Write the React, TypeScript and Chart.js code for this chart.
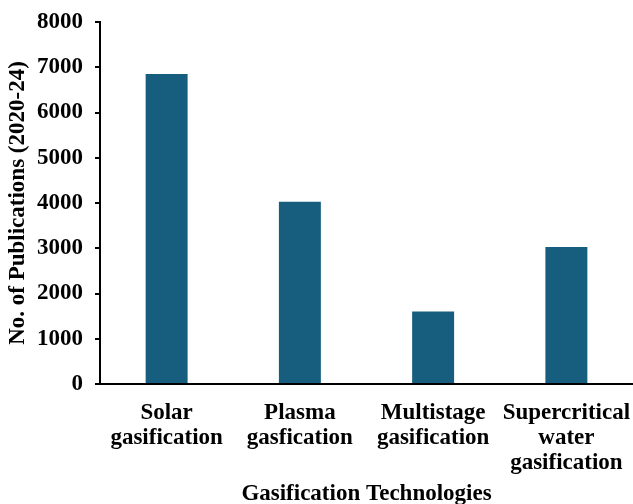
import React, { useEffect, useRef } from "react";
import { Chart, registerables } from "chart.js";

Chart.register(...registerables);

const categories: string[][] = [
  ["Solar", "gasification"],
  ["Plasma", "gasfication"],
  ["Multistage", "gasification"],
  ["Supercritical", "water", "gasification"],
];
const publications: number[] = [6850, 4030, 1600, 3030];
const yTickValues: number[] = [0, 1000, 2000, 3000, 4000, 5000, 6000, 7000, 8000];

const xTitle = "Gasification Technologies";
const yTitle = "No. of Publications (2020-24)";

const FONT = "'Liberation Serif', 'Times New Roman', serif";
const FS = 23;
const LH = 25 / 23;

export default function App() {
  const ref = useRef<HTMLCanvasElement | null>(null);
  useEffect(() => {
    if (!ref.current) return;
    const chart = new Chart(ref.current, {
      type: "bar",
      data: {
        labels: categories,
        datasets: [
          {
            data: publications,
            backgroundColor: "#175e7e",
            borderWidth: 0,
            barPercentage: 0.315,
            categoryPercentage: 1,
          },
        ],
      },
      options: {
        responsive: false,
        animation: false,
        layout: { padding: { left: 4, right: 0, top: 22, bottom: 0 } },
        plugins: {
          legend: { display: false },
          tooltip: { enabled: false },
        },
        scales: {
          x: {
            afterFit: (scale: any) => {
              scale.paddingLeft = 0;
              scale.paddingRight = 0;
            },
            grid: { display: false, drawTicks: false },
            border: { display: true, color: "#000", width: 2 },
            ticks: {
              color: "#000",
              padding: 17,
              maxRotation: 0,
              autoSkip: false,
              font: { family: FONT, size: FS, weight: "bold", lineHeight: LH },
            },
            title: {
              display: true,
              text: xTitle,
              color: "#000",
              padding: { top: -11, bottom: -3 },
              font: { family: FONT, size: FS, weight: "bold", lineHeight: LH },
            },
          },
          y: {
            min: 0,
            max: 8000,
            afterBuildTicks: (axis: any) => {
              axis.ticks = yTickValues.map((v) => ({ value: v }));
            },
            afterFit: (scale: any) => {
              scale.width = 96;
              scale.paddingTop = 0;
              scale.paddingBottom = 0;
            },
            grid: {
              display: true,
              drawOnChartArea: false,
              drawTicks: true,
              tickLength: 5,
              color: "#000",
              lineWidth: 2,
            },
            border: { display: true, color: "#000", width: 2 },
            ticks: {
              color: "#000",
              padding: 12,
              callback: (v: any) => String(v),
              font: { family: FONT, size: FS, weight: "bold" },
            },
            title: {
              display: true,
              text: yTitle,
              color: "#000",
              padding: { top: 2, bottom: 7 },
              font: { family: FONT, size: FS, weight: "bold", lineHeight: LH },
            },
          },
        },
      },
    });
    return () => chart.destroy();
  }, []);
  return (
    <div style={{ position: "fixed", left: 0, top: 0, width: 633, height: 504, background: "#fff" }}>
      <canvas ref={ref} width={633} height={504} style={{ display: "block" }} />
    </div>
  );
}
